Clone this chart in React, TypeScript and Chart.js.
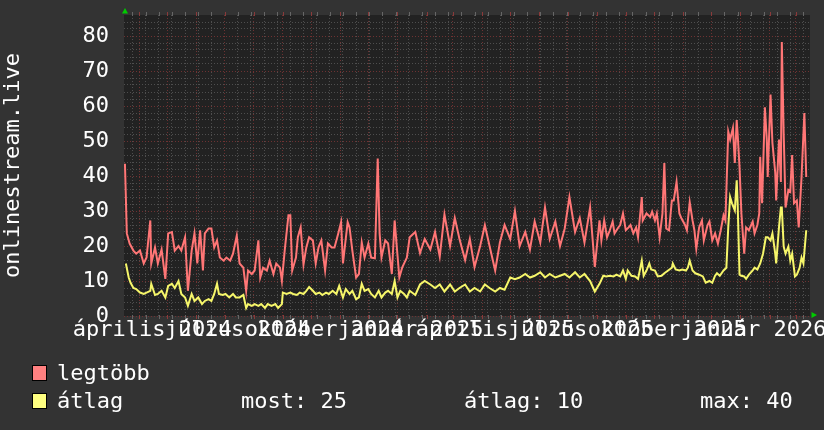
import React, { useEffect, useRef } from 'react';
import { Chart, registerables } from 'chart.js';

Chart.register(...registerables);

// ---- time frame (day offsets from 2024-03-16) ----
const START_UTC = Date.UTC(2024, 2, 16);
const SPAN_DAYS = 730;
const Y_MAX = 86;
const LABEL_OFFSET_DAYS = 14;

const monthNames = [
  'január', 'február', 'március', 'április', 'május', 'június',
  'július', 'augusztus', 'szeptember', 'október', 'november', 'december',
];

// quarterly x labels: [year, monthIndex]
const labelMonths: [number, number][] = [
  [2024, 3], [2024, 6], [2024, 9], [2025, 0],
  [2025, 3], [2025, 6], [2025, 9], [2026, 0],
];

const yTickLabels = [0, 10, 20, 30, 40, 50, 60, 70, 80];
const Y_MINOR_STEP = 2;
const X_MINOR_FIRST_DAY = 9;
const X_MINOR_STEP_DAYS = 14;

// ---- series: legtöbb (max) ----
const redDays = [
  1, 3, 6, 10, 13, 17, 21, 24, 28, 29, 33, 36, 40, 44, 47, 51, 54, 58, 61, 65,
  68, 72, 75, 78, 81, 84, 86, 90, 93, 96, 99, 102, 106, 109, 113, 116, 120, 123, 127, 130,
  132, 136, 139, 143, 145, 148, 152, 155, 159, 162, 166, 168, 171, 175, 177, 179, 183, 185, 188, 191,
  194, 197, 201, 204, 207, 210, 214, 217, 221, 224, 228, 231, 233, 238, 240, 243, 247, 250, 253, 256,
  260, 263, 267, 270, 272, 274, 278, 281, 285, 288, 290, 293, 296, 301, 304,
  310, 315, 320, 326, 331, 336, 341, 347, 352, 357, 363, 368, 373, 379, 384, 389, 395, 400, 405, 411,
  416, 421, 427, 432, 437, 443, 448, 453, 459, 464, 469, 474, 480, 485, 490, 496, 501,
  506, 508, 511, 514, 517, 520, 522, 526, 528, 531, 534, 537, 539, 542, 545, 547, 551, 552, 556, 560,
  562, 565, 567, 570, 573, 575, 577, 580, 583, 585, 588, 591, 593, 597, 599, 602, 605, 607, 609, 612,
  615, 617, 621, 623, 626, 629, 632, 635, 638, 640, 643, 645, 648, 650, 652, 653, 655, 657, 660, 662,
  665, 669, 671, 674, 676, 677, 679, 682, 684, 685, 688, 690, 693, 694, 697, 699, 700, 702, 704, 707,
  709, 711, 713, 716, 718, 721, 724, 726,
];
const redValues = [
  43.5, 23.6, 20.7, 18.7, 17.8, 18.7, 15, 16.7, 27.3, 15, 19.6, 15, 19, 10.6, 23.6, 24, 18.7, 20, 18.7, 22.5,
  7.2, 18.7, 23.6, 15, 24.5, 13, 23.6, 25, 25, 19.6, 21.6, 16.7, 15.8, 16.7, 15.8, 17.8, 23, 15, 13.8, 7.2,
  13, 12, 13, 21.6, 11, 13.8, 13, 15.8, 12, 15, 13.8, 10, 18.7, 28.8, 28.8, 13, 16.7, 22.5, 25.3, 14.7,
  19.6, 22.5, 21.6, 15, 19.6, 21.6, 13, 20.7, 19.6, 19.6, 23.6, 26.8, 15, 26.8, 25.3, 18.7, 11, 12, 21, 16.7,
  20.7, 16.7, 16.5, 45, 23.6, 16.7, 21.6, 20.7, 12, 27.3, 20.7, 11, 13.8, 16.7, 22.5,
  24, 18, 22, 19, 24, 17, 29, 20, 28, 22, 16, 22, 14, 20, 26, 20, 13, 21, 26, 22,
  30, 20, 24, 19, 27, 21, 31, 22, 27, 20, 25, 34, 24, 28, 21, 31, 14,
  27.3, 21.6, 27.3, 22.5, 24.5, 27, 23.6, 25.3, 26, 29.3, 24.5, 25.3, 26, 23.6, 25.3, 22.5, 34, 27.3, 29.3, 28.3,
  29.8, 27.3, 29.3, 22.5, 29.3, 43.7, 25, 24.5, 33, 33, 38.3, 29.3, 28, 26, 24.5, 32.5, 27.3, 24.5, 19.2, 25.3,
  27.3, 21.6, 26, 27, 21.6, 23.6, 20.7, 24.5, 28.8, 27.3, 52.7, 50.4, 53.7, 43.7, 56, 52, 42.6, 29.3, 17.8, 25.3,
  24.5, 27, 23.6, 26, 29.3, 45.5, 32.2, 59.6, 50.4, 39.7, 63.3, 49.5, 41, 33, 50.4, 38.3, 78.3, 52, 31, 36,
  35.5, 46, 32.2, 33, 25.3, 39.7, 58, 39.7,
];

// ---- series: átlag (average) ----
const avgDays = [
  2, 5, 7, 10, 13, 17, 21, 24, 28, 29, 33, 36, 40, 44, 47, 51, 54, 58, 61, 65,
  68, 72, 75, 79, 83, 86, 90, 93, 96, 99, 101, 105, 108, 112, 116, 119, 123, 127, 130, 132,
  136, 139, 143, 146, 150, 153, 157, 161, 164, 168, 169, 173, 177, 180, 184, 187, 191, 194, 197, 201,
  204, 208, 211, 215, 218, 222, 226, 229, 233, 236, 240, 243, 247, 250, 253, 256, 260, 263, 267, 271,
  274, 278, 281, 285, 288, 291, 294, 298, 301, 304,
  310, 315, 320, 326, 331, 336, 341, 347, 352, 357, 363, 368, 373, 379, 384, 389, 395, 400, 405, 411,
  416, 421, 427, 432, 437, 443, 448, 453, 459, 464, 469, 474, 480, 485, 490, 496, 501,
  506, 510, 513, 517, 521, 524, 528, 531, 534, 536, 540, 544, 547, 551, 553, 556, 559, 561, 565, 568,
  572, 575, 579, 583, 584, 587, 591, 594, 598, 600, 602, 605, 608, 612, 616, 619, 623, 626, 629, 631,
  634, 638, 641, 643, 645, 647, 650, 652, 653, 655, 657, 660, 662, 665, 669, 671, 674, 677, 680, 683,
  685, 688, 690, 693, 694, 697, 699, 700, 702, 704, 707, 709, 711, 714, 716, 719, 721, 723, 726,
];
const avgValues = [
  15, 11, 9.5, 8, 7.7, 6.7, 6.3, 6.7, 7.2, 9.2, 6, 6.3, 7.2, 5.3, 8.6, 9.2, 8, 10, 6.3, 5.3,
  2.9, 6.3, 4.3, 5.3, 3.4, 4.3, 4.8, 4.3, 6.3, 9.2, 6.3, 6, 6.3, 5.3, 6.3, 5.3, 5.3, 6, 2.3, 3.4,
  2.9, 3.4, 2.9, 3.4, 2.3, 3.4, 2.9, 3.4, 2.3, 3.4, 6.7, 6.3, 6.7, 6.3, 6, 6.7, 6.3, 7.2, 8.3, 7.2,
  6.3, 6.7, 6, 6.7, 6.3, 7.2, 6.3, 8.6, 5.3, 7.7, 6.3, 7.2, 4.8, 5.3, 9.2, 7.2, 7.7, 6.3, 5.3, 7.2,
  5.3, 6.7, 7.2, 6.3, 10, 5.3, 7.2, 6.3, 5.3, 7.2,
  6, 9, 10, 9, 8, 9, 7, 9, 7, 8, 9, 7, 8, 7, 9, 8, 7, 8, 7.5, 11,
  10.5, 11, 12, 11, 11.5, 12.5, 11, 12, 11, 11.5, 12, 11, 12.5, 11, 12, 10, 7,
  9.2, 11.5, 11.3, 11.5, 11.3, 11.8, 11.3, 13, 10.6, 13, 11.5, 11.3, 10.6, 15.8, 11.5, 13, 15, 13.3, 13, 11.3,
  11.5, 12.2, 13, 13.8, 15, 13.3, 13, 13.3, 13, 13.8, 15.8, 13, 12.2, 11.8, 11.3, 9.5, 10, 9.5, 11.5, 12.2,
  11.5, 13, 13.8, 25.3, 34, 32.2, 30.2, 38.8, 32.2, 11.8, 11.5, 11.3, 10.6, 11.8, 13, 13.8, 13.3, 15, 17.8, 22.5,
  22.5, 21.6, 23.6, 17.8, 15, 25.3, 31, 31, 19.8, 17.8, 19.8, 15.8, 17.8, 11.3, 11.8, 13.8, 16.7, 15, 24.5,
];

const seriesNames = ['legtöbb', 'átlag'];
const statsLabels = ['most:', 'átlag:', 'max:'];
const statsValues = [25, 10, 40];

// ---- styling ----
const FONT_FAMILY = '"DejaVu Sans Mono", monospace';
const OUTER_BG = '#333333';
const PLOT_BG = '#222222';
const GRID_MINOR = '#4e4e4e';
const GRID_MAJOR = '#6e3232';
const RED_LINE = '#ff7676';
const YEL_LINE = '#f6f66a';
const RED_BOX = '#ff8080';
const YEL_BOX = '#ffff80';
const ARROW = '#00cc00';

const dayOf = (y: number, m: number, d: number) =>
  Math.round((Date.UTC(y, m, d) - START_UTC) / 86400000);

export default function App() {
  const ref = useRef<HTMLCanvasElement>(null);

  useEffect(() => {
    const canvas = ref.current;
    if (!canvas) return;

    const labelDays = labelMonths.map(([y, m]) => dayOf(y, m, 1) + LABEL_OFFSET_DAYS);
    const labelTexts = labelMonths.map(([y, m]) => `${monthNames[m]} ${y}`);

    const monthStartDays: number[] = [];
    for (let y = 2024, m = 3; ; ) {
      const d = dayOf(y, m, 1);
      if (d >= SPAN_DAYS) break;
      monthStartDays.push(d);
      m++;
      if (m > 11) { m = 0; y++; }
    }
    const minorDays: number[] = [];
    for (let d = X_MINOR_FIRST_DAY; d < SPAN_DAYS; d += X_MINOR_STEP_DAYS) minorDays.push(d);
    const majorSet = new Set(monthStartDays);
    const xGridDays = Array.from(new Set([...minorDays, ...monthStartDays])).sort((a, b) => a - b);

    const yGridValues: number[] = [];
    for (let v = 0; v < Y_MAX; v += Y_MINOR_STEP) yGridValues.push(v);

    const font = { family: FONT_FAMILY, size: 22 };

    const rrdPlugin = {
      id: 'rrdFrame',
      beforeDraw(chart: any) {
        const { ctx, chartArea: a, width, height } = chart;
        ctx.save();
        ctx.fillStyle = OUTER_BG;
        ctx.fillRect(0, 0, width, height);
        ctx.fillStyle = PLOT_BG;
        ctx.fillRect(a.left, a.top, a.right - a.left, a.bottom - a.top);
        ctx.restore();
      },
      afterDraw(chart: any) {
        const { ctx, chartArea: a } = chart;
        const xs = chart.scales.xg;
        ctx.save();
        // solid tick stubs at the ends of the vertical grid lines
        ctx.lineWidth = 1;
        xGridDays.forEach((d) => {
          const px = Math.round(xs.getPixelForValue(d)) + 0.5;
          ctx.strokeStyle = majorSet.has(d) ? '#8a3a3a' : '#666666';
          ctx.beginPath();
          ctx.moveTo(px, a.top - 3);
          ctx.lineTo(px, a.top + 1);
          ctx.moveTo(px, a.bottom - 1);
          ctx.lineTo(px, a.bottom + 3);
          ctx.stroke();
        });
        // arrows
        ctx.fillStyle = ARROW;
        ctx.beginPath();
        ctx.moveTo(a.left + 1, a.top - 7);
        ctx.lineTo(a.left - 2, a.top - 1.5);
        ctx.lineTo(a.left + 4, a.top - 1.5);
        ctx.closePath();
        ctx.fill();
        ctx.beginPath();
        ctx.moveTo(a.right + 7, a.bottom - 1);
        ctx.lineTo(a.right + 1.5, a.bottom - 4);
        ctx.lineTo(a.right + 1.5, a.bottom + 2);
        ctx.closePath();
        ctx.fill();

        // legend
        ctx.font = `22px ${FONT_FAMILY}`;
        ctx.textBaseline = 'alphabetic';
        ctx.textAlign = 'left';
        const rows = [
          { color: RED_BOX, name: seriesNames[0], base: 380, boxY: 365 },
          { color: YEL_BOX, name: seriesNames[1], base: 408, boxY: 393 },
        ];
        rows.forEach((r) => {
          ctx.fillStyle = r.color;
          ctx.fillRect(32, r.boxY, 15, 16);
          ctx.strokeStyle = '#000';
          ctx.lineWidth = 1;
          ctx.strokeRect(32.5, r.boxY + 0.5, 14, 15);
          ctx.fillStyle = '#ffffff';
          ctx.fillText(r.name, 57, r.base);
        });
        const statX = [241, 464, 700];
        statsLabels.forEach((lab, i) => {
          ctx.fillText(`${lab} ${statsValues[i]}`, statX[i], 408);
        });
        ctx.restore();
      },
    };

    const chart = new Chart(canvas, {
      type: 'line',
      data: {
        datasets: [
          {
            label: seriesNames[0],
            data: redDays.map((d, i) => ({ x: d, y: redValues[i] })),
            borderColor: RED_LINE,
            borderWidth: 2,
            pointRadius: 0,
            tension: 0,
            fill: false,
            order: 1,
            xAxisID: 'x',
            yAxisID: 'y',
          },
          {
            label: seriesNames[1],
            data: avgDays.map((d, i) => ({ x: d, y: avgValues[i] })),
            borderColor: YEL_LINE,
            borderWidth: 2,
            pointRadius: 0,
            tension: 0,
            fill: false,
            order: 0,
            xAxisID: 'x',
            yAxisID: 'y',
          },
        ],
      },
      options: {
        animation: false,
        responsive: false,
        devicePixelRatio: 1,
        events: [],
        layout: { padding: { top: 15, right: 14, left: 0, bottom: 0 } },
        plugins: { legend: { display: false }, tooltip: { enabled: false }, title: { display: false } },
        scales: {
          x: {
            type: 'linear',
            min: 0,
            max: SPAN_DAYS,
            position: 'bottom',
            afterBuildTicks: (s: any) => { s.ticks = labelDays.map((v) => ({ value: v })); },
            ticks: {
              autoSkip: false,
              maxRotation: 0,
              minRotation: 0,
              font,
              color: '#ffffff',
              padding: 1,
              callback: (_v: any, i: number) => labelTexts[i],
            },
            grid: { display: false, drawTicks: false },
            border: { display: false },
            afterFit: (s: any) => { s.height = 114; s.paddingLeft = 0; s.paddingRight = 0; },
          },
          xg: {
            type: 'linear',
            min: 0,
            max: SPAN_DAYS,
            position: 'bottom',
            afterBuildTicks: (s: any) => { s.ticks = xGridDays.map((v) => ({ value: v })); },
            ticks: { display: false },
            grid: {
              drawTicks: false,
              lineWidth: 1,
              color: (c: any) => (c.tick && majorSet.has(c.tick.value) ? GRID_MAJOR : GRID_MINOR),
            },
            border: { display: false, dash: [1, 2] },
            afterFit: (s: any) => { s.height = 0; s.paddingLeft = 0; s.paddingRight = 0; },
          },
          y: {
            type: 'linear',
            min: 0,
            max: Y_MAX,
            position: 'left',
            afterBuildTicks: (s: any) => { s.ticks = yGridValues.map((v) => ({ value: v })); },
            ticks: {
              autoSkip: false,
              font,
              color: '#ffffff',
              padding: 15,
              callback: (v: any) => (yTickLabels.includes(v) ? String(v) : ''),
            },
            grid: {
              drawTicks: false,
              lineWidth: 1,
              color: (c: any) => (c.tick && c.tick.value % 10 === 0 ? GRID_MAJOR : GRID_MINOR),
            },
            border: { display: false, dash: [1, 2] },
            title: { display: true, text: 'onlinestream.live', color: '#ffffff', font, padding: 0 },
            afterFit: (s: any) => { s.width = 124; s.paddingTop = 0; s.paddingBottom = 0; },
          },
        },
      } as any,
      plugins: [rrdPlugin],
    });

    return () => chart.destroy();
  }, []);

  return (
    <div style={{ position: 'fixed', left: 0, top: 0, width: 824, height: 430, background: OUTER_BG }}>
      <canvas ref={ref} width={824} height={430} style={{ display: 'block', width: 824, height: 430 }} />
    </div>
  );
}
